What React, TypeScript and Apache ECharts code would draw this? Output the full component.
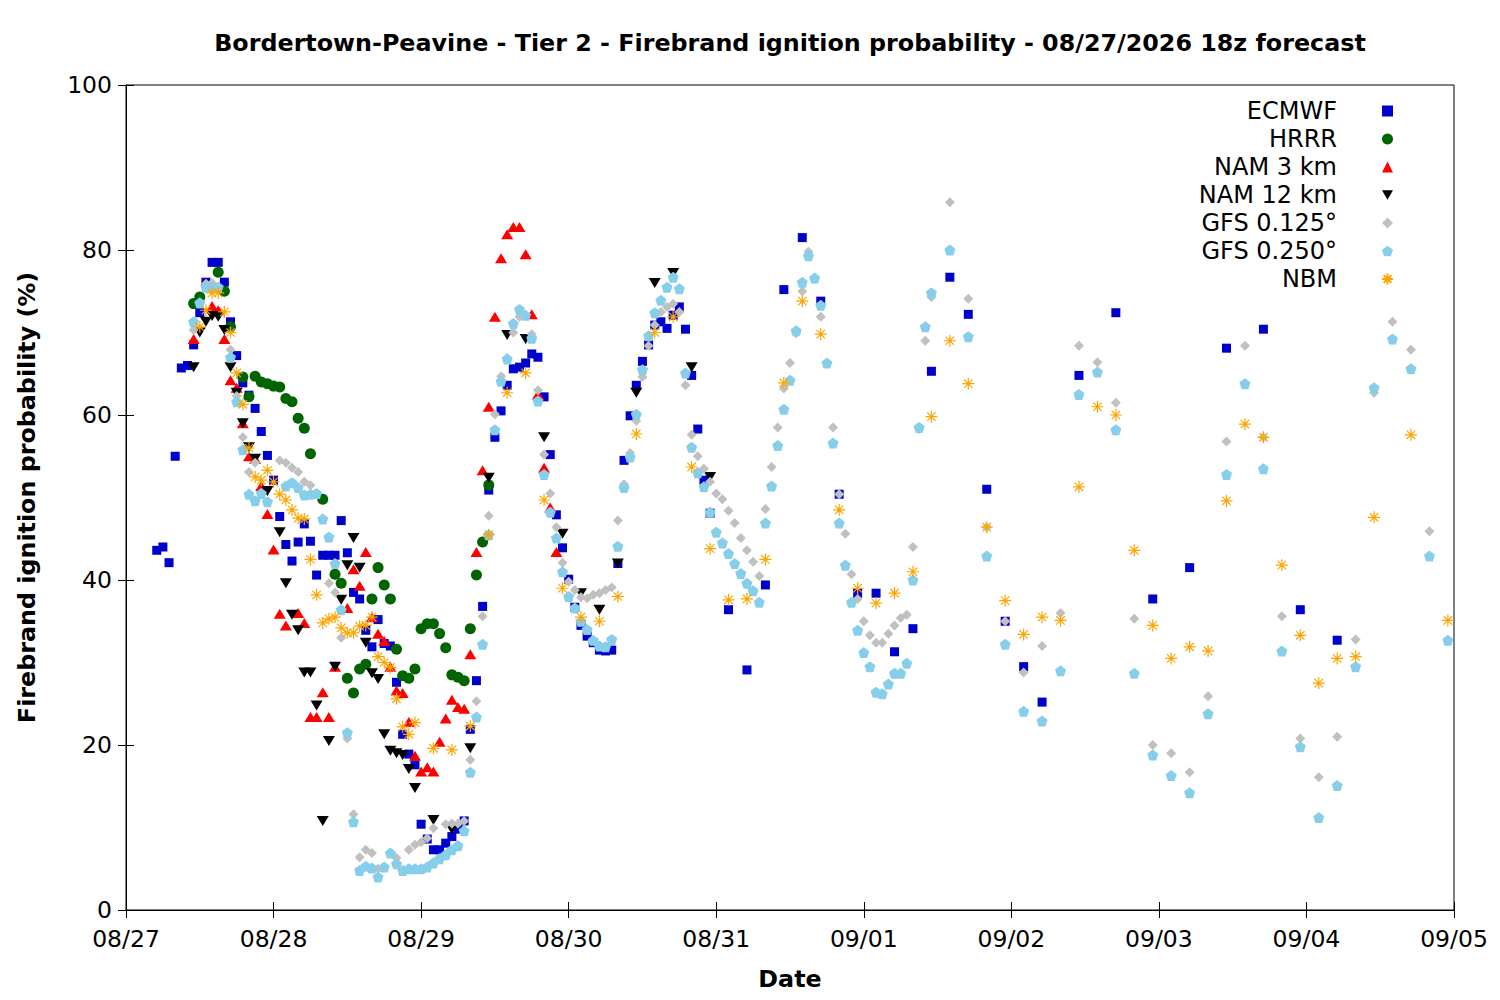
import React, { useEffect, useRef } from 'react';
import * as echarts from 'echarts';

const chartTitle = 'Bordertown-Peavine - Tier 2 - Firebrand ignition probability - 08/27/2026 18z forecast';
const dayLabels = ['08/27', '08/28', '08/29', '08/30', '08/31', '09/01', '09/02', '09/03', '09/04', '09/05'];

// [hours since 08/27 00:00, ignition probability %]
const ecmwf = [
  [5, 43.6], [6, 44], [7, 42.1], [8, 55], [9, 65.7], [10, 66], [11, 68.5], [12, 72.4], [13, 76.1], [14, 78.5],
  [15, 78.5], [16, 76.1], [17, 71.3], [18, 67.2], [19, 63.9], [20, 62.4], [21, 60.8], [22, 58], [23, 55.1], [24, 52.1],
  [25, 47.7], [26, 44.3], [27, 42.3], [28, 44.6], [29, 46.8], [30, 44.7], [31, 40.6], [32, 43], [33, 43], [34, 43],
  [35, 47.2], [36, 43.3], [37, 38.5], [38, 37.7], [39, 33.9], [40, 31.9], [41, 35.2], [42, 32.3], [43, 32], [44, 27.6],
  [45, 21.3], [46, 18.9], [47, 17.6], [48, 10.4], [49, 8.6], [50, 7.3], [51, 7.3], [52, 8.1], [53, 8.9], [54, 9.8],
  [55, 10.8], [56, 21.9], [57, 27.8], [58, 36.8], [59, 50.9], [60, 57.3], [61, 60.5], [62, 63.6], [63, 65.6], [64, 65.8],
  [65, 66.3], [66, 67.4], [67, 67], [68, 62.2], [69, 55.2], [70, 47.9], [71, 43.9], [72, 40.1], [73, 36.7], [74, 34.5],
  [75, 33.2], [76, 32.4], [77, 31.5], [78, 31.4], [79, 31.5], [80, 42], [81, 54.5], [82, 59.9], [83, 63.6], [84, 66.5],
  [85, 68.5], [86, 70.9], [87, 71.3], [88, 70.5], [89, 72.1], [90, 73.1], [91, 70.4], [92, 64.8], [93, 58.3], [94, 52.1],
  [95, 48.1], [98, 36.4], [101, 29.1], [104, 39.4], [107, 75.2], [110, 81.5], [113, 73.8], [116, 50.4], [119, 38.4],
  [122, 38.4], [125, 31.3], [128, 34.1], [131, 65.3], [134, 76.7], [137, 72.2], [140, 51], [143, 35], [146, 29.5],
  [149, 25.2], [155, 64.8], [161, 72.4], [167, 37.7], [173, 41.5], [179, 68.1], [185, 70.4], [191, 36.4], [197, 32.7],
];

const hrrr = [
  [11, 73.5], [12, 74.3], [15, 77.3], [16, 75], [17, 70.7], [19, 64.6], [20, 62.2], [21, 64.7], [22, 64], [23, 63.8],
  [24, 63.5], [25, 63.4], [26, 62], [27, 61.6], [28, 59.6], [29, 58.4], [30, 55.3], [32, 49.8], [34, 40.7], [35, 39.6],
  [36, 28.1], [37, 26.3], [38, 29.2], [39, 29.8], [40, 37.7], [41, 41.5], [42, 39.4], [43, 37.7], [44, 31.6], [45, 28.4],
  [46, 28.1], [47, 29.2], [48, 34.1], [49, 34.7], [50, 34.7], [51, 33.5], [52, 31.8], [53, 28.5], [54, 28.2], [55, 27.8],
  [56, 34.1], [57, 40.6], [58, 44.6], [59, 51.5],
];

const nam3 = [
  [11, 69.2], [14, 73.2], [15, 72.7], [16, 69.2], [17, 64.2], [18, 63.3], [19, 59], [20, 55], [21, 54.7], [22, 51.4],
  [23, 48], [24, 43.7], [25, 35.9], [26, 34.5], [28, 36], [29, 34.8], [30, 23.4], [31, 23.4], [32, 26.4], [33, 23.4],
  [34, 29.5], [36, 36.6], [37, 41.3], [38, 39.3], [39, 43.4], [40, 35.5], [41, 33.5], [42, 32.6], [43, 29.5], [44, 26.6],
  [45, 26.3], [46, 22.8], [47, 18.7], [48, 16.8], [49, 17.3], [50, 16.8], [51, 20.4], [52, 23.2], [53, 25.5], [54, 24.6],
  [55, 24.4], [56, 31], [57, 43.4], [58, 53.3], [59, 61], [60, 71.9], [61, 79], [62, 81.9], [63, 82.8], [64, 82.8],
  [65, 79.5], [66, 72.2], [67, 62.5], [68, 53.6], [69, 48.8], [70, 43.4],
];

const nam12 = [
  [11, 65.8], [12, 70], [13, 71.3], [14, 72], [15, 71.9], [16, 70.3], [17, 65.8], [18, 62.7], [19, 59], [20, 56.1],
  [21, 54.7], [23, 50.8], [25, 45.8], [26, 39.6], [27, 35.8], [28, 33.9], [29, 28.8], [30, 28.8], [31, 24.8], [32, 10.8],
  [33, 20.5], [34, 29.5], [35, 37.6], [36, 41.8], [37, 45.1], [38, 41.5], [39, 32.4], [40, 28.7], [41, 28], [42, 21.3],
  [43, 19.3], [44, 19], [45, 18.8], [46, 17.1], [47, 14.8], [50, 10.9], [53, 9.8], [56, 19.6], [59, 52.4], [62, 69.7],
  [65, 69.2], [68, 57.3], [71, 45.6], [74, 38.4], [77, 36.4], [80, 42], [83, 62.7], [86, 76], [89, 77.2], [92, 65.8],
  [95, 52.5],
];

const gfs0125 = [
  [11, 70.3], [13, 75.9], [14, 76], [15, 75.5], [17, 67.9], [18, 62.3], [19, 57.3], [20, 53.1], [21, 54.2], [25, 54.5],
  [26, 54.2], [27, 53.6], [28, 53.1], [29, 51.9], [30, 51.5], [33, 39.6], [34, 38.5], [35, 33], [36, 20.8], [37, 11.6],
  [38, 6.4], [39, 7.3], [40, 6.9], [41, 5], [44, 6.3], [46, 7.3], [47, 7.9], [48, 8.2], [49, 8.7], [50, 9.9],
  [52, 10.4], [53, 10.5], [54, 10.5], [55, 10.8], [56, 18.2], [57, 25.3], [58, 35.6], [59, 47.8], [60, 60.1], [61, 64.7],
  [62, 66.9], [63, 70], [64, 71.9], [66, 69.8], [67, 63], [68, 55.2], [69, 50.5], [70, 46.4], [71, 42.1], [72, 39.8],
  [73, 38.8], [74, 37.9], [75, 37.8], [76, 38.2], [77, 38.4], [78, 38.8], [79, 39.1], [80, 47.2], [81, 51.6], [82, 55.4],
  [83, 59.3], [84, 64.6], [85, 68.4], [86, 70.9], [87, 72.5], [88, 73.1], [89, 73.5], [90, 72.5], [91, 63.6], [92, 57.6],
  [93, 55], [94, 53.5], [95, 51.9], [96, 50.5], [97, 49.8], [98, 48.4], [99, 46.9], [100, 45.1], [101, 43.6], [102, 42.2],
  [103, 40.5], [104, 48.6], [105, 53.7], [106, 58.5], [107, 63.2], [108, 66.3], [109, 69.9], [110, 75], [111, 79.8], [112, 76.5],
  [113, 71.9], [115, 58.5], [116, 50.4], [117, 45.6], [118, 40.7], [119, 37.7], [120, 35], [121, 33.3], [122, 32.4], [123, 32.4],
  [124, 33.5], [125, 34.5], [126, 35.4], [127, 35.8], [128, 44], [129, 58.3], [130, 69], [131, 74.3], [134, 85.8], [137, 74.1],
  [140, 46.4], [143, 35], [146, 28.8], [149, 32], [152, 36], [155, 68.4], [158, 66.4], [161, 61.5], [164, 35.3], [167, 20],
  [170, 19], [173, 16.7], [176, 25.9], [179, 56.8], [182, 68.4], [185, 57.3], [188, 35.6], [191, 20.8], [194, 16.1], [197, 21],
  [200, 32.8], [203, 62.7], [206, 71.3], [209, 67.9], [212, 45.9],
];

const gfs0250 = [
  [11, 71.3], [12, 73.6], [13, 75.5], [14, 75.5], [15, 75.5], [17, 67], [18, 61.6], [19, 55.8], [20, 50.4], [21, 49.6],
  [22, 50.5], [23, 49.5], [26, 51.4], [27, 51.8], [28, 51.2], [29, 50.3], [30, 50.4], [31, 50.5], [32, 47.4], [33, 45.2],
  [34, 42], [35, 36.4], [36, 21.5], [37, 10.7], [38, 4.8], [39, 5.3], [40, 5.1], [41, 4], [42, 5.2], [43, 6.9],
  [44, 5.6], [45, 4.8], [46, 5], [47, 5], [48, 5], [49, 5.2], [50, 5.7], [51, 6.2], [52, 6.7], [53, 7.3],
  [54, 7.8], [55, 9.6], [56, 16.7], [57, 23.4], [58, 32.2], [59, 45.5], [60, 58.2], [61, 64.1], [62, 66.8], [63, 71.1],
  [64, 72.8], [65, 72.1], [66, 69.3], [67, 61.7], [68, 52.8], [69, 48.2], [70, 45.1], [71, 41], [72, 38], [73, 36.6],
  [74, 35], [75, 34], [76, 32.7], [77, 32], [78, 31.9], [79, 32.8], [80, 44.1], [81, 51.2], [82, 54.9], [83, 60.1],
  [84, 65.5], [85, 69.6], [86, 72.4], [87, 73.9], [88, 75.5], [89, 76.7], [90, 75.3], [91, 65.1], [92, 56.1], [93, 53],
  [94, 51.3], [95, 48.2], [96, 45.8], [97, 44.5], [98, 43.2], [99, 42], [100, 40.8], [101, 39.6], [102, 38.7], [103, 37.3],
  [104, 46.9], [105, 51.4], [106, 56.3], [107, 60.7], [108, 64.2], [109, 70.2], [110, 76.1], [111, 79.3], [112, 76.6], [113, 73.3],
  [114, 66.3], [115, 56.6], [116, 46.9], [117, 41.8], [118, 37.3], [119, 33.9], [120, 31.2], [121, 29.5], [122, 26.4], [123, 26.2],
  [124, 27.4], [125, 28.7], [126, 28.7], [127, 29.9], [128, 40], [129, 58.5], [130, 70.7], [131, 74.8], [134, 80], [137, 69.5],
  [140, 42.9], [143, 32.2], [146, 24.1], [149, 22.9], [152, 29], [155, 62.5], [158, 65.2], [161, 58.2], [164, 28.7], [167, 18.8],
  [170, 16.3], [173, 14.2], [176, 23.8], [179, 52.8], [182, 63.8], [185, 53.5], [188, 31.4], [191, 19.8], [194, 11.2], [197, 15.1],
  [200, 29.5], [203, 63.3], [206, 69.2], [209, 65.6], [212, 42.9], [215, 32.7],
];

const nbm = [
  [12, 70.7], [13, 72.7], [14, 74.8], [15, 74.8], [16, 72.5], [17, 70], [18, 65.1], [19, 61.3], [20, 56], [21, 52.5],
  [22, 52.1], [23, 53.3], [24, 51.9], [25, 50.4], [26, 49.7], [27, 48.5], [28, 47.5], [29, 47.4], [30, 42.5], [31, 38.2],
  [32, 34.8], [33, 35.3], [34, 35.5], [35, 34.2], [36, 33.6], [37, 33.6], [38, 34.4], [39, 34.5], [40, 35.5], [41, 30.7],
  [42, 30], [43, 29.4], [44, 25.6], [45, 22.2], [46, 21.3], [47, 22.7], [50, 19.6], [53, 19.4], [56, 22.3], [59, 45.5],
  [62, 62.7], [65, 65.1], [68, 49.7], [71, 39], [74, 35.5], [77, 35], [80, 38], [83, 57.7], [86, 70], [89, 71.9],
  [92, 53.7], [95, 43.8], [98, 37.6], [101, 37.7], [104, 42.5], [107, 63.9], [110, 73.8], [113, 69.8], [116, 48.5], [119, 39],
  [122, 37.2], [125, 38.4], [128, 41], [131, 59.8], [134, 69], [137, 63.8], [140, 46.4], [143, 37.5], [146, 33.4], [149, 35.5],
  [152, 35.1], [155, 51.3], [158, 61], [161, 60], [164, 43.6], [167, 34.5], [170, 30.5], [173, 31.9], [176, 31.4], [179, 49.6],
  [182, 58.9], [185, 57.3], [188, 41.8], [191, 33.3], [194, 27.5], [197, 30.5], [200, 30.7], [203, 47.6], [209, 57.6], [215, 35.1],
];

const fontFamily = '"DejaVu Sans", sans-serif';
const pentagon = 'path://M0,-1L0.951,-0.309L0.588,0.809L-0.588,0.809L-0.951,-0.309Z';
const downTriangle = 'path://M-1,-0.85L1,-0.85L0,0.85Z';
const asterisk = 'path://M0,-1L0,1M-1,0L1,0M-0.7,-0.7L0.7,0.7M-0.7,0.7L0.7,-0.7';

const App: React.FC = () => {
  const chartRef = useRef<HTMLDivElement | null>(null);

  useEffect(() => {
    if (!chartRef.current) return;
    const myChart = echarts.init(chartRef.current, null, { renderer: 'svg' });

    const tickStyle = { inside: true, length: 8, lineStyle: { color: '#000' } };
    const lineStyle = { lineStyle: { color: '#000', width: 1 } };

    const option = {
      animation: false,
      backgroundColor: '#fff',
      textStyle: { fontFamily },
      grid: {
        left: 126, right: 46, top: 85, bottom: 90,
        show: true, borderColor: '#000', borderWidth: 1,
      },
      graphic: [
        {
          type: 'text', x: 790, y: 43,
          style: {
            text: chartTitle, fontFamily, fontSize: 23.8, fontWeight: 'bold',
            fill: '#000', textAlign: 'center', textVerticalAlign: 'middle',
          },
        },
      ],
      legend: {
        orient: 'vertical',
        right: 101,
        top: 94,
        align: 'right',
        itemWidth: 11,
        itemHeight: 11,
        itemGap: 4,
        textStyle: { fontFamily, fontSize: 24, color: '#000', lineHeight: 24, padding: [0, 40, 0, 0] },
        data: ['ECMWF', 'HRRR', 'NAM 3 km', 'NAM 12 km', 'GFS 0.125°', 'GFS 0.250°', 'NBM'],
      },
      xAxis: [
        {
          type: 'value', min: 0, max: 216, interval: 24,
          axisLine: lineStyle, axisTick: tickStyle, splitLine: { show: false },
          axisLabel: {
            formatter: (v: number) => dayLabels[Math.round(v / 24)],
            fontFamily, fontSize: 23.5, color: '#000', margin: 17,
          },
          name: 'Date', nameLocation: 'middle', nameGap: 57,
          nameTextStyle: { fontFamily, fontSize: 23.8, fontWeight: 'bold', color: '#000' },
        },
        {
          type: 'value', position: 'top', min: 0, max: 216, interval: 24,
          axisLine: lineStyle, axisTick: tickStyle, splitLine: { show: false },
          axisLabel: { show: false },
        },
      ],
      yAxis: [
        {
          type: 'value', min: 0, max: 100, interval: 20,
          axisLine: { show: true, ...lineStyle }, axisTick: tickStyle, splitLine: { show: false },
          axisLabel: { fontFamily, fontSize: 23.5, color: '#000', margin: 14 },
          name: 'Firebrand ignition probability (%)', nameLocation: 'middle', nameGap: 87,
          nameTextStyle: { fontFamily, fontSize: 23.8, fontWeight: 'bold', color: '#000' },
        },
        {
          type: 'value', position: 'right', min: 0, max: 100, interval: 20,
          axisLine: { show: true, ...lineStyle }, axisTick: tickStyle, splitLine: { show: false },
          axisLabel: { show: false },
        },
      ],
      series: [
        { name: 'ECMWF', type: 'scatter', data: ecmwf, symbol: 'rect', symbolSize: 9, itemStyle: { color: '#0000cd', opacity: 1 } },
        { name: 'HRRR', type: 'scatter', data: hrrr, symbol: 'circle', symbolSize: 11, itemStyle: { color: '#006400', opacity: 1 } },
        { name: 'NAM 3 km', type: 'scatter', data: nam3, symbol: 'triangle', symbolSize: [12, 10], itemStyle: { color: '#ff0000', opacity: 1 } },
        { name: 'NAM 12 km', type: 'scatter', data: nam12, symbol: downTriangle, symbolSize: [12, 10], itemStyle: { color: '#000000', opacity: 1 } },
        { name: 'GFS 0.125°', type: 'scatter', data: gfs0125, symbol: 'diamond', symbolSize: 10, itemStyle: { color: '#c0c0c0', opacity: 1 } },
        { name: 'GFS 0.250°', type: 'scatter', data: gfs0250, symbol: pentagon, symbolSize: 11, itemStyle: { color: '#87ceeb', opacity: 1 } },
        {
          name: 'NBM', type: 'scatter', data: nbm, symbol: asterisk, symbolSize: 12,
          itemStyle: { color: 'rgba(0,0,0,0)', borderColor: '#ffa500', borderWidth: 1.2, opacity: 1 },
        },
      ],
    };

    myChart.setOption(option);

    return () => {
      myChart.dispose();
    };
  }, []);

  return (
    <div
      ref={chartRef}
      style={{ position: 'absolute', left: 0, top: 0, width: '1500px', height: '1000px', background: '#fff' }}
    />
  );
};

export default App;
